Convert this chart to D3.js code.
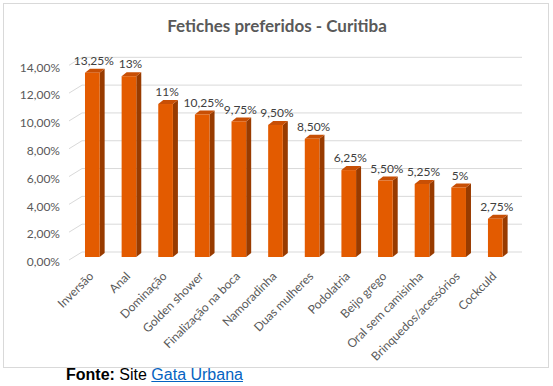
<!DOCTYPE html>
<html>
<head>
<meta charset="utf-8">
<script src="https://cdn.jsdelivr.net/npm/d3@7"></script>
<style>
  body { margin: 0; background: #fff; }
  .fonte { position: absolute; left: 66px; top: 366px; font-family: "Liberation Sans", Arial, sans-serif; font-size: 16px; color: #000; }
  .fonte a { color: #0563c1; text-decoration: underline; }
</style>
</head>
<body>
<div id="chart"></div>
<div class="fonte"><b>Fonte:</b> Site <a href="#">Gata Urbana</a></div>
<script>
const categories = ["Inversão", "Anal", "Dominação", "Golden shower", "Finalização na boca",
  "Namoradinha", "Duas mulheres", "Podolatria", "Beijo grego", "Oral sem camisinha",
  "Brinquedos/acessórios", "Cockculd"];
const values = [13.25, 13, 11, 10.25, 9.75, 9.5, 8.5, 6.25, 5.5, 5.25, 5, 2.75];
const valueLabels = ["13,25%", "13%", "11%", "10,25%", "9,75%", "9,50%", "8,50%",
  "6,25%", "5,50%", "5,25%", "5%", "2,75%"];
const yTicks = [0, 2, 4, 6, 8, 10, 12, 14];

const W = 553, H = 386;
const font = "Lato, 'Open Sans', sans-serif";
const depthX = 5, depthY = 4;     // bar depth

const svg = d3.select("#chart").append("svg")
  .attr("width", W).attr("height", H);

// chart border
svg.append("rect")
  .attr("x", 3.5).attr("y", 3.5)
  .attr("width", 545).attr("height", 364)
  .attr("fill", "#fff").attr("stroke", "#d9d9d9");

svg.append("text")
  .attr("x", 277).attr("y", 32)
  .attr("text-anchor", "middle")
  .attr("font-family", font).attr("font-weight", "bold")
  .attr("font-size", 17).attr("fill", "#595959")
  .text("Fetiches preferidos - Curitiba");

const x = d3.scaleBand()
  .domain(categories)
  .range([74, 513.6])
  .paddingInner(0.6).paddingOuter(0.3);

const y = d3.scaleLinear().domain([0, 14]).range([257, 62.3]);

const fmt = d3.formatLocale({ decimal: ",", thousands: ".", grouping: [3], currency: ["", ""] }).format(".2f");

// gridlines on back wall + diagonal on side wall
const grid = svg.append("g");
yTicks.forEach(t => {
  const yy = y(t);
  grid.append("line")
    .attr("x1", 82).attr("x2", 522)
    .attr("y1", yy - 5).attr("y2", yy - 5)
    .attr("stroke", "#d9d9d9").attr("stroke-width", 1);
  grid.append("line")
    .attr("x1", 69).attr("y1", yy + 3)
    .attr("x2", 82).attr("y2", yy - 5)
    .attr("stroke", "#d9d9d9").attr("stroke-width", 1);
  grid.append("text")
    .attr("x", 60).attr("y", yy + 5)
    .attr("dy", "0.35em")
    .attr("text-anchor", "end")
    .attr("font-family", font).attr("font-size", 12)
    .attr("fill", "#595959")
    .text(fmt(t) + "%");
});

// 3D bars
const bars = svg.append("g").selectAll("g")
  .data(values)
  .join("g");

const bw = x.bandwidth();

bars.append("path")   // side
  .attr("fill", "#983b00")
  .attr("d", (d, i) => {
    const x0 = x(categories[i]) + bw, y0 = y(d), yb = y(0);
    return `M${x0},${y0}L${x0 + depthX},${y0 - depthY}L${x0 + depthX},${yb - depthY}L${x0},${yb}Z`;
  });

bars.append("path")   // top
  .attr("fill", "#c84f05")
  .attr("d", (d, i) => {
    const x0 = x(categories[i]), y0 = y(d);
    return `M${x0},${y0}L${x0 + depthX},${y0 - depthY}L${x0 + bw + depthX},${y0 - depthY}L${x0 + bw},${y0}Z`;
  });

bars.append("rect")   // front
  .attr("x", (d, i) => x(categories[i]))
  .attr("y", d => y(d))
  .attr("width", bw)
  .attr("height", d => y(0) - y(d))
  .attr("fill", "#e35b00");

// value labels
bars.append("text")
  .attr("x", (d, i) => x(categories[i]) + bw / 2 + 1.5)
  .attr("y", d => y(d) - 12)
  .attr("dy", "0.35em")
  .attr("text-anchor", "middle")
  .attr("font-family", font).attr("font-size", 12)
  .attr("fill", "#404040")
  .text((d, i) => valueLabels[i]);

// category labels
svg.append("g").selectAll("text")
  .data(categories)
  .join("text")
  .attr("transform", d => `translate(${x(d) + bw / 2 + 2},277) rotate(-45)`)
  .attr("text-anchor", "end")
  .attr("font-family", font).attr("font-size", 12)
  .attr("fill", "#595959")
  .text(d => d);
</script>
</body>
</html>
